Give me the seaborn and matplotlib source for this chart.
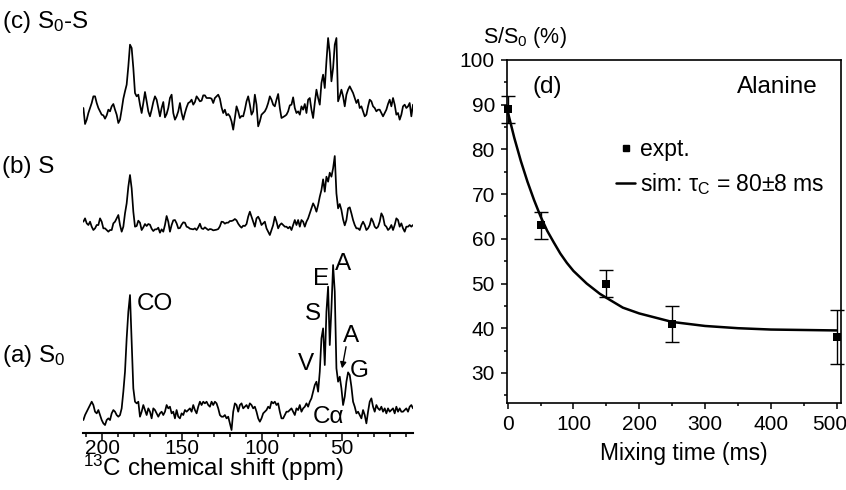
import numpy as np
import pandas as pd
import matplotlib
matplotlib.use("Agg")
import matplotlib.pyplot as plt
import seaborn as sns
from matplotlib.lines import Line2D
from matplotlib.ticker import MultipleLocator
from matplotlib.transforms import ScaledTranslation

# ---------------------------------------------------------------- data
# chemical-shift axis of the digitised 13C spectra (ppm, high -> low)
shift_ppm = np.linspace(211.86, 5.6, 199)

# (a) S0 : reference spectrum, intensity in arbitrary units
spec_a_S0 = [
    -24, -9, 1, 11, 21, 31, 21, 1, -4, 6,
    -9, -24, -34, -39, -24, -19, -24, -4, 6, 1,
    -9, -14, -9, 11, 61, 121, 221, 301, 351, 211,
    71, 31, 26, 31, -14, 1, 21, 6, -9, 11,
    1, -19, 11, 6, -4, -14, -4, 1, -9, 1,
    21, 11, 16, -4, 1, -19, 6, -14, -19, -4,
    -9, 6, 1, 6, 11, 1, 21, 6, -4, 16,
    31, 21, 31, 26, 31, 21, 16, 31, 21, 31,
    26, 11, -9, -14, -14, -9, -19, -14, -34, -54,
    1, 26, 21, 1, 21, 26, 11, 16, 21,
    11, 26, 21, 11, 16, 1, -19, -29, -19, -4,
    1, 6, 16, 11, 31, 26, 31, 21, 26, 1,
    -19, -19, -9, 1, 1, 6, 11, 1, -9, 11,
    6, 21, 1, 11, 16, 26, 16, 31, 41, 61,
    81, 91, 61, 121, 221, 251, 141, 301, 376, 201,
    311, 441, 361, 131, 91, 106, 71, 21, 46, 91,
    119, 111, 76, 31, 16, -4, 1, -9, -19, 6,
    -9, -34, 1, 31, 41, 16, 1, 21, 11, 6,
    16, 1, 11, -4, 11, 1, 6, 11, -4, 16,
    1, 11, 1, 1, 6, 11, 1, 16, 21, 11,
]

# (b) S : spectrum after exchange mixing
spec_b_S = [
    16, 26, 11, 6, 16, 1, -9, -4, 6, 6,
    26, 16, -4, -4, -9, -14, -9, -9, 11, 16,
    26, 36, 6, -14, 1, 41, 71, 121, 156, 116,
    46, 1, 3, 19, 13, -9, -1, 9, 3, 9,
    7, -5, -12, -7, -7, -2, -17, -7, -14, 6,
    33, 16, -14, 6, 20, 21, 11, -4, -3, 7,
    14, 13, 1, -1, -5, -6, -7, -4, -9, -1,
    10, -4, -6, -1, -5, -9, -6, -7, -10, -9,
    -8, -6, 2, 16, 15, 10, 13, 13, 18, 18,
    20, 24, 20, 10, 3, -2, 4, 3, 9,
    31, 46, 31, 16, 1, 26, 31, 21, 6, 11,
    16, -4, -14, -24, -9, 6, 31, 16, -4, 6,
    11, 6, 1, 1, -4, 1, -9, 6, 21, 6,
    21, 1, 21, 16, 1, 16, 26, 41, 56, 71,
    61, 46, 66, 91, 111, 143, 106, 151, 136, 163,
    151, 176, 213, 101, 56, 69, 51, 23, 5, 21,
    56, 59, 41, 21, 6, -4, -4, -9, 6, 16,
    6, -9, -4, 6, 26, 16, 1, -4, 1, 16,
    41, 31, 6, 1, -9, -4, 6, -9, 6, 26,
    21, 1, 11, -4, -14, 1, 1, 6, 1, 6,
]

# (c) S0 - S : difference spectrum
spec_c_diff = [
    21, -27, -14, 6, 21, 36, 56, 56, 36, 21,
    11, 1, -1, -11, -1, 16, 11, 26, 33, 16,
    1, -24, -14, 16, 49, 71, 91, 146, 211, 201,
    141, 66, 56, 61, 31, 6, 36, 69, 41, 11,
    -4, 16, 39, 56, 46, 21, -4, 21, 39, -7,
    3, 21, 51, 61, 6, -14, -4, 11, 36, 6,
    -14, 6, 23, 36, 39, 46, 31, 39, 56, 49,
    41, 43, 59, 59, 51, 51, 51, 49, 36, 51,
    56, 61, 49, 23, 6, 16, -1, 3, -4, -19,
    -44, -9, 26, 11, -9, -3, -4, 16, 41,
    56, 31, 1, 11, 61, 31, -34, -19, 1, 6,
    11, 21, 36, 56, 46, 31, 26, 46, 63, 21,
    -9, -6, -3, 1, 11, 29, 31, 53, 21, 6,
    11, 1, 26, 16, 33, 6, 46, 51, 16, -9,
    36, 76, 51, 31, 96, 121, 81, 161, 231, 186,
    101, 141, 211, 231, 41, 56, 76, 56, 26, 61,
    76, 86, 76, 66, 51, 36, 46, 21, 26, 11,
    -4, 1, 26, 46, 41, 26, 21, 11, 16, 16,
    6, -4, 6, 16, 33, 46, 26, 51, 31, 1,
    6, -14, 1, 26, 31, 21, 26, 36, -4, 31,
]

ppm_ticks = [200, 150, 100, 50]

# (d) exchange decay for alanine
mix_time_ms = [0, 50, 150, 250, 500]
ratio_pct = [89, 63, 50, 41, 38]
ratio_err = [3, 3, 3, 4, 6]

sim_time_ms = [0, 10, 20, 30, 40, 50, 60, 70, 80, 90, 100, 120, 140, 150,
               175, 200, 250, 300, 350, 400, 450, 500]
sim_ratio_pct = [88.5, 82.6, 77.4, 72.8, 68.7, 65.0, 61.8, 59.2, 56.7, 54.6,
                 52.8, 50.0, 47.7, 46.8, 44.6, 43.3, 41.4, 40.5, 40.0, 39.7,
                 39.6, 39.5]

for tr in (spec_a_S0, spec_b_S, spec_c_diff):
    assert len(tr) == len(shift_ppm)

# ---------------------------------------------------------------- style
sns.set_theme(style="ticks")
plt.rcParams["font.family"] = ["Liberation Sans", "DejaVu Sans"]
plt.rcParams["mathtext.fontset"] = "custom"
plt.rcParams["mathtext.rm"] = "Liberation Sans"
plt.rcParams["mathtext.it"] = "Liberation Sans:italic"
plt.rcParams["mathtext.bf"] = "Liberation Sans:bold"
for key in ("axes.edgecolor", "axes.labelcolor", "xtick.color",
            "ytick.color", "text.color"):
    plt.rcParams[key] = "black"

W, H = 846, 490
fig = plt.figure(figsize=(W / 100, H / 100), dpi=100)
fig.patch.set_facecolor("white")


def fx(px):
    return px / W


def fy(py):
    return 1 - py / H


# ---------------------------------------------------------------- left: stacked spectra
axL = fig.add_axes([fx(83), fy(432.7), 330 / W, 427.7 / H])
axL.set_facecolor("white")

spectra = pd.DataFrame({
    "ppm": np.tile(shift_ppm, 3),
    "intensity": np.concatenate([spec_a_S0, spec_b_S, spec_c_diff]),
    "trace": np.repeat(["a", "b", "c"], len(shift_ppm)),
})
stack_offset = {"a": 62, "b": 617, "c": 953}
spectra["y"] = spectra["intensity"] + spectra["trace"].map(stack_offset)

for name, grp in spectra.groupby("trace"):
    sns.lineplot(data=grp, x="ppm", y="y", ax=axL, color="black",
                 linewidth=1.25, sort=False, estimator=None)

axL.set_xlim(212.1, 5.6)
axL.set_ylim(0, 1283)
axL.set_yticks([])
axL.set_ylabel("")
for side in ("top", "left", "right"):
    axL.spines[side].set_visible(False)
axL.spines["bottom"].set_linewidth(1.5)
axL.set_xticks(ppm_ticks)
axL.xaxis.set_minor_locator(MultipleLocator(10))
axL.tick_params(axis="x", which="major", length=5.5, width=1.1,
                direction="out", pad=-1.0, labelsize=15)
axL.tick_params(axis="x", which="minor", length=3.0, width=1.1,
                direction="out")
axL.set_xlabel(r"$^{13}$C chemical shift (ppm)", fontsize=17.5)
axL.xaxis.set_label_coords(0.397, -0.047)

ann_kw = dict(fontsize=17.5, ha="left", va="baseline")
axL.text(178.5, 368, "CO", **ann_kw)
axL.text(54.4, 488, "A", **ann_kw)
axL.text(68.3, 443, "E", **ann_kw)
axL.text(73.5, 338, "S", **ann_kw)
axL.text(77.7, 188, "V", **ann_kw)
axL.text(49.6, 273, "A", **ann_kw)
axL.text(45.4, 168, "G", **ann_kw)
axL.text(68.3, 28, "Cα", **ann_kw)
axL.annotate("", xy=(50.0, 193), xytext=(47.5, 258),
             arrowprops=dict(arrowstyle="-|>", color="black", lw=1.0,
                             mutation_scale=9, shrinkA=0, shrinkB=0))

lab_kw = dict(fontsize=17.5, ha="left", va="baseline")
fig.text(fx(2), fy(28.3), r"(c) S$_0$-S", **lab_kw)
fig.text(fx(2), fy(173.3), "(b) S", **lab_kw)
fig.text(fx(2), fy(361.7), r"(a) S$_0$", **lab_kw)

# ---------------------------------------------------------------- right: decay curve
axR = fig.add_axes([fx(506.7), fy(403.3), 334.3 / W, 343.3 / H])
axR.set_facecolor("white")

sim = pd.DataFrame({"t": sim_time_ms, "r": sim_ratio_pct})
expt = pd.DataFrame({"t": mix_time_ms, "r": ratio_pct, "err": ratio_err})

sns.lineplot(data=sim, x="t", y="r", ax=axR, color="black", linewidth=1.8,
             sort=False, estimator=None)
axR.errorbar(expt["t"], expt["r"], yerr=expt["err"], fmt="none",
             ecolor="black", elinewidth=1.0, capsize=5, capthick=1.0,
             clip_on=False, zorder=3)
sns.scatterplot(data=expt, x="t", y="r", ax=axR, marker="s", s=30,
                color="black", edgecolor="black", linewidth=0,
                clip_on=False, zorder=4)

axR.set_xlim(-1.5, 506.5)
axR.set_ylim(23.2, 100)
axR.xaxis.set_major_locator(MultipleLocator(100))
axR.xaxis.set_minor_locator(MultipleLocator(50))
axR.yaxis.set_major_locator(MultipleLocator(10))
axR.yaxis.set_minor_locator(MultipleLocator(5))
for sp in axR.spines.values():
    sp.set_linewidth(1.2)
axR.tick_params(axis="both", which="major", length=4.5, width=1.1,
                direction="out", pad=4, labelsize=15)
axR.tick_params(axis="both", which="minor", length=2.5, width=1.1,
                direction="out")
axR.set_ylabel("")
axR.set_xlabel("Mixing time (ms)", fontsize=16.5)
axR.xaxis.set_label_coords(0.529, -0.113)

fig.text(fx(533), fy(93.3), "(d)", fontsize=17.5, ha="left", va="baseline")
fig.text(fx(818), fy(93.3), "Alanine", fontsize=17.5, ha="right",
         va="baseline")
fig.text(fx(483), fy(43.3), r"S/S$_0$ (%)", fontsize=15.5, ha="left",
         va="baseline")

handles = [
    Line2D([], [], marker="s", linestyle="none", color="black",
           markersize=4.2),
    Line2D([], [], color="black", linewidth=1.8),
]
labels = ["expt.", r"sim: τ$_\mathrm{C}$ = 80±8 ms"]
axR.legend(handles, labels, loc="upper left", bbox_to_anchor=(0.327, 0.774),
           frameon=False, borderpad=0, borderaxespad=0, handlelength=0.85,
           handletextpad=0.2, labelspacing=0.45, fontsize=16.5)

# keep the last time label inside the canvas
fig.canvas.draw()
for tick in axR.xaxis.get_major_ticks():
    if abs(tick.get_loc() - 500) < 1e-6:
        tick.label1.set_transform(tick.label1.get_transform()
                                  + ScaledTranslation(-0.07, 0,
                                                      fig.dpi_scale_trans))

fig.savefig("out.png", dpi=100, facecolor="white")
